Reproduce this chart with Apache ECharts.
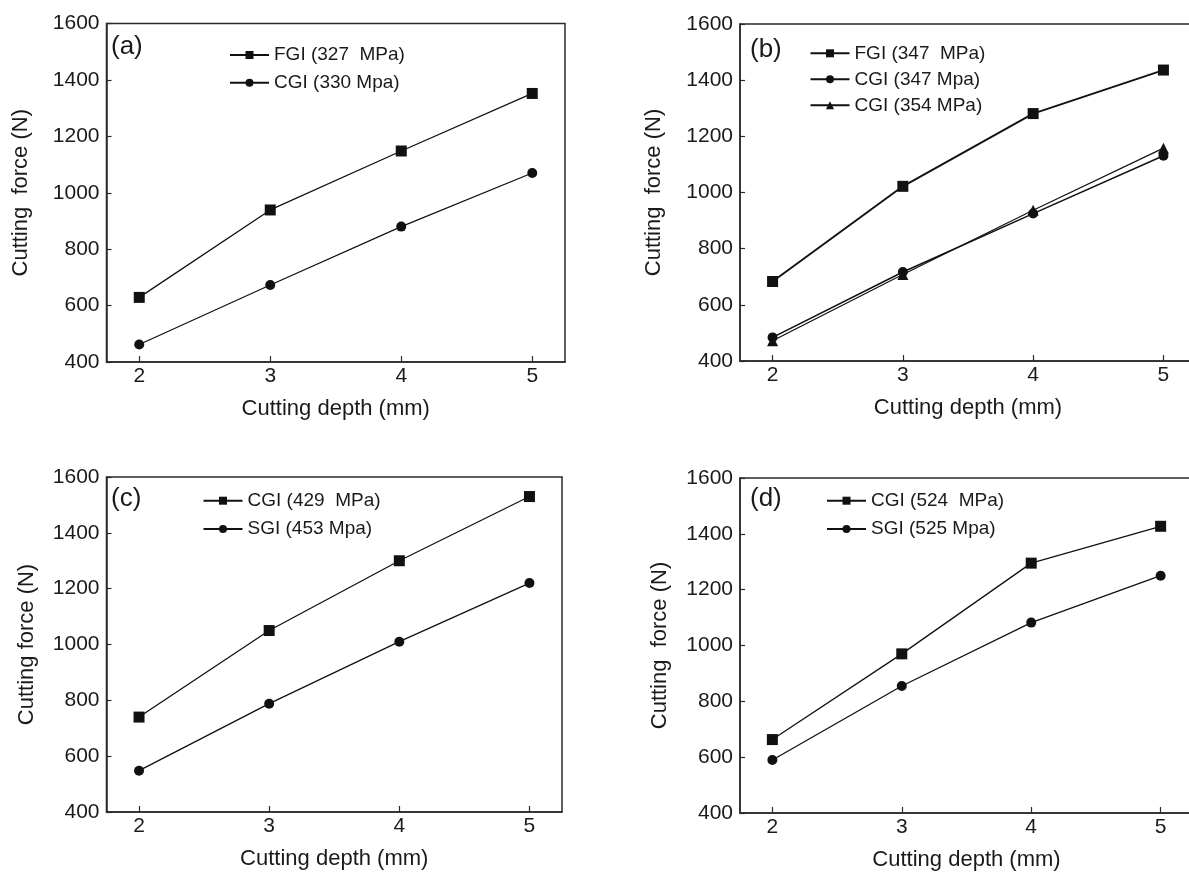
<!DOCTYPE html>
<html>
<head>
<meta charset="utf-8">
<script src="https://cdn.jsdelivr.net/npm/echarts@6/dist/echarts.min.js"></script>
<style>
html,body{margin:0;padding:0;background:#fff;}
#chart{width:1189px;height:872px;}
</style>
</head>
<body>
<div id="chart"></div>
<script>
// ---- data ----
const depths = [2, 3, 4, 5];
const xTicks = [2, 3, 4, 5];
const yTicks = [400, 600, 800, 1000, 1200, 1400, 1600];

const aNames = ['FGI (327  MPa)', 'CGI (330 Mpa)'];
const aFGI = [629, 939, 1148, 1352];
const aCGI = [462, 673, 880, 1070];

const bNames = ['FGI (347  MPa)', 'CGI (347 Mpa)', 'CGI (354 MPa)'];
const bFGI = [683, 1022, 1281, 1436];
const bCGI347 = [484, 717, 925, 1131];
const bCGI354 = [472, 708, 937, 1158];

const cNames = ['CGI (429  MPa)', 'SGI (453 Mpa)'];
const cCGI = [740, 1050, 1300, 1530];
const cSGI = [548, 788, 1010, 1220];

const dNames = ['CGI (524  MPa)', 'SGI (525 Mpa)'];
const dCGI = [663, 970, 1295, 1427];
const dSGI = [590, 855, 1082, 1250];

const panelLabels = ['(a)', '(b)', '(c)', '(d)'];
const xTitle = 'Cutting depth (mm)';
const yTitles = ['Cutting  force (N)', 'Cutting  force (N)', 'Cutting force (N)', 'Cutting  force (N)'];

// ---- layout ----
const FONT = '"Liberation Sans", Arial, Helvetica, sans-serif';
const INK = '#1a1a1a';
const grids = [
  {left: 106.5, top: 23.5, width: 458.5, height: 338.5},
  {left: 740, top: 24, width: 456, height: 337},
  {left: 106.5, top: 477, width: 455.5, height: 335},
  {left: 740, top: 478, width: 453, height: 335}
];
const yNameGaps = [75, 75, 69, 69];
const legendPos = [
  {left: 229, top: 45.5, gap: 8.7, names: aNames},
  {left: 809.5, top: 43.8, gap: 7, names: bNames},
  {left: 202.5, top: 491.2, gap: 9.3, names: cNames},
  {left: 826, top: 491.2, gap: 9.3, names: dNames}
];
const labelPos = [
  {left: 111, top: 34},
  {left: 750, top: 37},
  {left: 111, top: 486},
  {left: 750, top: 486}
];

const chart = echarts.init(document.getElementById('chart'), null, {renderer: 'canvas'});

const xAxes = grids.map((g, i) => ({
  type: 'value', gridIndex: i, min: 1.75, max: 5.25,
  name: xTitle, nameLocation: 'middle', nameGap: 36,
  nameTextStyle: {fontFamily: FONT, fontSize: 22, color: INK},
  axisLine: {show: true, onZero: false, lineStyle: {color: '#2a2a2a', width: 1.5}},
  axisTick: {show: true, inside: true, length: 6, customValues: xTicks, lineStyle: {color: '#2a2a2a', width: 1.2}},
  axisLabel: {show: true, customValues: xTicks, margin: 4, fontFamily: FONT, fontSize: 21, color: INK},
  splitLine: {show: false}
}));
const yAxes = grids.map((g, i) => ({
  type: 'value', gridIndex: i, min: 400, max: 1600, interval: 200,
  name: yTitles[i], nameLocation: 'middle', nameGap: yNameGaps[i], nameRotate: 90,
  nameTextStyle: {fontFamily: FONT, fontSize: 22, color: INK},
  axisLine: {show: true, onZero: false, lineStyle: {color: '#2a2a2a', width: 1.5}},
  axisTick: {show: true, inside: true, length: 5, lineStyle: {color: '#2a2a2a', width: 1.2}},
  axisLabel: {show: true, margin: 7, fontFamily: FONT, fontSize: 21, color: INK,
    formatter: v => yTicks.indexOf(v) >= 0 ? String(v) : ''},
  splitLine: {show: false}
}));

function mk(name, vals, idx, symbol, size, lw) {
  return {
    name: name, type: 'line', xAxisIndex: idx, yAxisIndex: idx,
    data: depths.map((d, k) => [d, vals[k]]),
    symbol: symbol, symbolSize: size, showSymbol: true,
    lineStyle: {color: '#111', width: lw || 1.3},
    itemStyle: {color: '#111', borderWidth: 0},
    emphasis: {disabled: true},
    animation: false, z: 3
  };
}

const series = [
  mk(aNames[0], aFGI, 0, 'rect', 11),
  mk(aNames[1], aCGI, 0, 'circle', 10),
  mk(bNames[0], bFGI, 1, 'rect', 11, 1.9),
  mk(bNames[1], bCGI347, 1, 'circle', 10, 1.5),
  mk(bNames[2], bCGI354, 1, 'triangle', 11, 1.2),
  mk(cNames[0], cCGI, 2, 'rect', 11),
  mk(cNames[1], cSGI, 2, 'circle', 10),
  mk(dNames[0], dCGI, 3, 'rect', 11),
  mk(dNames[1], dSGI, 3, 'circle', 10)
];

const legends = legendPos.map(p => ({
  orient: 'vertical', left: p.left, top: p.top, padding: 0,
  itemWidth: 39, itemHeight: 10, itemGap: p.gap,
  data: p.names, selectedMode: false,
  textStyle: {fontFamily: FONT, fontSize: 19, color: INK}
}));

const titles = labelPos.map((p, i) => ({
  text: panelLabels[i], left: p.left, top: p.top, padding: 0,
  textStyle: {fontFamily: FONT, fontSize: 26, fontWeight: 'normal', color: INK}
}));

chart.setOption({
  backgroundColor: '#ffffff',
  animation: false,
  title: titles,
  legend: legends,
  grid: grids.map(g => Object.assign({show: true, borderColor: '#2a2a2a', borderWidth: 1.5, backgroundColor: 'transparent', containLabel: false, outerBoundsMode: 'none'}, g)),
  xAxis: xAxes,
  yAxis: yAxes,
  series: series
});
</script>
</body>
</html>
